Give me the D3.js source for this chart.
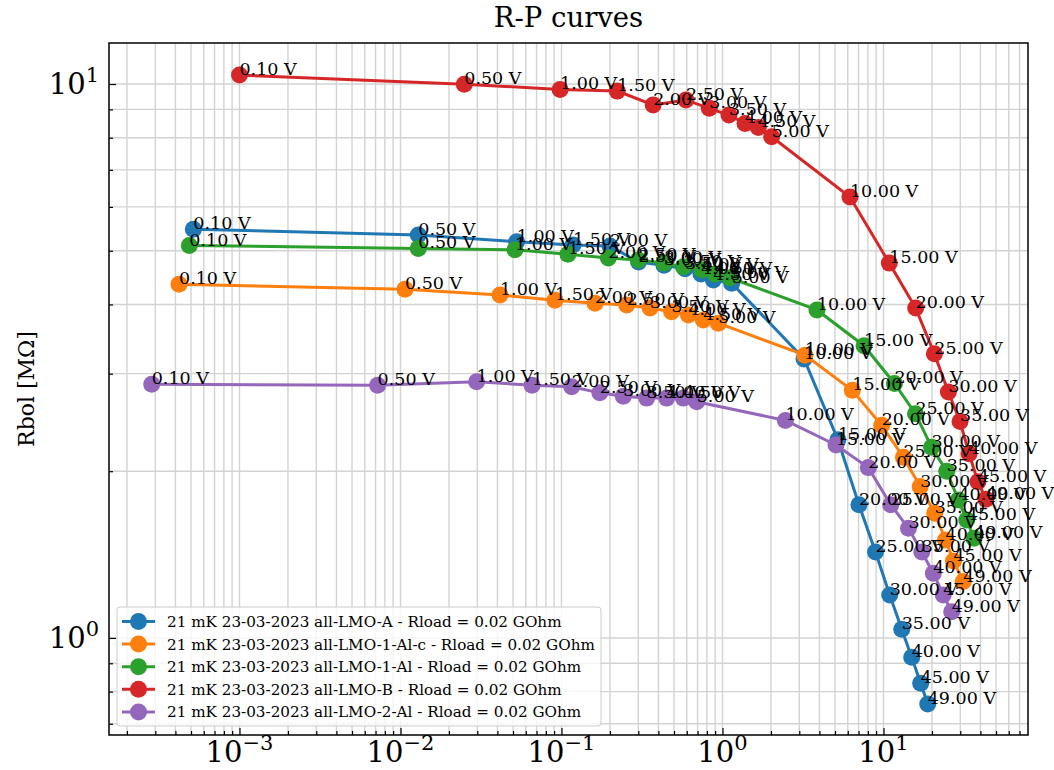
<!DOCTYPE html>
<html>
<meta charset="utf-8">
<style>
body { margin: 0; background: #fff; }
text { font-family: "DejaVu Serif", serif; }
</style>
<script src="https://d3js.org/d3.v7.min.js"></script>
<body>
<div id="chart"></div>
<script>
// data: P (x) and Rbol in MOhm (y), one label per point
var voltages = ["0.10 V","0.50 V","1.00 V","1.50 V","2.00 V","2.50 V","3.00 V","3.50 V","4.00 V","4.50 V","5.00 V",
  "10.00 V","15.00 V","20.00 V","25.00 V","30.00 V","35.00 V","40.00 V","45.00 V","49.00 V"];

var names = [
  "21 mK 23-03-2023 all-LMO-A - Rload = 0.02 GOhm",
  "21 mK 23-03-2023 all-LMO-1-Al-c - Rload = 0.02 GOhm",
  "21 mK 23-03-2023 all-LMO-1-Al - Rload = 0.02 GOhm",
  "21 mK 23-03-2023 all-LMO-B - Rload = 0.02 GOhm",
  "21 mK 23-03-2023 all-LMO-2-Al - Rload = 0.02 GOhm"
];
var colors = ["#1f77b4", "#ff7f0e", "#2ca02c", "#d62728", "#9467bd"];

var pA = [5.17e-4, 0.0129, 0.0527, 0.118, 0.200, 0.301, 0.433, 0.585, 0.735, 0.877, 1.14, 3.21, 5.21, 7.04, 8.92, 10.93, 12.98, 14.97, 17.02, 18.83];
var rA = [5.47, 5.34, 5.19, 5.12, 5.10, 4.77, 4.71, 4.64, 4.54, 4.43, 4.37, 3.19, 2.28, 1.74, 1.43, 1.196, 1.037, 0.923, 0.828, 0.760];

var pAlc = [4.21e-4, 0.01066, 0.0415, 0.0911, 0.1615, 0.254, 0.355, 0.483, 0.614, 0.760, 0.942, 3.25, 6.40, 9.75, 13.3, 16.9, 20.8, 24.3, 27.2, 31.3];
var rAlc = [4.35, 4.26, 4.16, 4.07, 4.02, 3.99, 3.94, 3.88, 3.83, 3.75, 3.70, 3.24, 2.80, 2.42, 2.12, 1.876, 1.679, 1.503, 1.377, 1.264];

var pAl = [4.88e-4, 0.0129, 0.0514, 0.1096, 0.1954, 0.300, 0.433, 0.571, 0.743, 0.898, 1.11, 3.86, 7.57, 11.7, 15.8, 19.9, 24.7, 29.2, 32.9, 36.5];
var rAl = [5.11, 5.05, 5.02, 4.93, 4.85, 4.81, 4.75, 4.68, 4.62, 4.54, 4.47, 3.91, 3.37, 2.88, 2.54, 2.21, 2.00, 1.775, 1.633, 1.513];

var pB = [1.00e-3, 0.0249, 0.098, 0.222, 0.371, 0.593, 0.828, 1.097, 1.38, 1.67, 2.02, 6.19, 10.87, 15.85, 20.7, 25.3, 29.9, 34.0, 38.6, 43.3];
var rB = [10.38, 9.99, 9.78, 9.71, 9.17, 9.36, 9.04, 8.79, 8.49, 8.35, 8.03, 6.25, 4.75, 3.94, 3.26, 2.78, 2.46, 2.15, 1.915, 1.78];

var p2Al = [2.85e-4, 0.00721, 0.0297, 0.0656, 0.1157, 0.173, 0.242, 0.338, 0.450, 0.571, 0.692, 2.46, 5.07, 8.05, 11.09, 14.3, 17.3, 20.4, 23.5, 26.5];
var r2Al = [2.87, 2.86, 2.90, 2.86, 2.84, 2.77, 2.73, 2.71, 2.71, 2.71, 2.67, 2.47, 2.23, 2.03, 1.74, 1.578, 1.43, 1.309, 1.196, 1.115];

var xTicks = [1e-3, 1e-2, 1e-1, 1, 10];
var xTickExp = ["\u22123", "\u22122", "\u22121", "0", "1"];
var yTicks = [1, 10];
var yTickExp = ["0", "1"];

var series = [
  {p: pA, r: rA}, {p: pAlc, r: rAlc}, {p: pAl, r: rAl}, {p: pB, r: rB}, {p: p2Al, r: r2Al}
];

// layout
var W = 1054, H = 770;
var margin = {top: 43, right: 26, bottom: 35, left: 109};
var width = W - margin.left - margin.right,
    height = H - margin.top - margin.bottom;

var svg = d3.select("#chart").append("svg")
    .attr("width", W).attr("height", H);

var g = svg.append("g")
    .attr("transform", "translate(" + margin.left + "," + margin.top + ")");

var x = d3.scaleLog().domain([1.547e-4, 79.0]).range([0, width]);
var y = d3.scaleLog().domain([0.668, 11.86]).range([height, 0]);

// minor tick positions (2..9 per decade)
function minors(dom) {
  var out = [];
  for (var e = Math.floor(Math.log10(dom[0])); e <= Math.ceil(Math.log10(dom[1])); e++) {
    for (var k = 2; k <= 9; k++) {
      var v = k * Math.pow(10, e);
      if (v >= dom[0] && v <= dom[1]) out.push(v);
    }
  }
  return out;
}
var xMinor = minors(x.domain()), yMinor = minors(y.domain());

// grid
var grid = g.append("g").attr("stroke", "#d3d3d3").attr("stroke-width", 1.4);
xTicks.concat(xMinor).forEach(function(v) {
  grid.append("line").attr("x1", x(v)).attr("x2", x(v)).attr("y1", 0).attr("y2", height);
});
yTicks.concat(yMinor).forEach(function(v) {
  grid.append("line").attr("y1", y(v)).attr("y2", y(v)).attr("x1", 0).attr("x2", width);
});

// ticks pointing inward
function styleAxis(sel) {
  sel.select(".domain").remove();
  sel.selectAll("line").attr("stroke", "#000").attr("stroke-width", 1.2);
  sel.selectAll("text").remove();
}
g.append("g").attr("transform", "translate(0," + height + ")")
  .call(d3.axisBottom(x).tickValues(xTicks).tickSize(-7)).call(styleAxis);
g.append("g").attr("transform", "translate(0," + height + ")")
  .call(d3.axisBottom(x).tickValues(xMinor).tickSize(-4)).call(styleAxis);
g.append("g")
  .call(d3.axisLeft(y).tickValues(yTicks).tickSize(-7)).call(styleAxis);
g.append("g")
  .call(d3.axisLeft(y).tickValues(yMinor).tickSize(-4)).call(styleAxis);

// tick labels as 10^n
xTicks.forEach(function(v, i) {
  var t = g.append("text").attr("x", x(v)).attr("y", height + 27)
    .attr("text-anchor", "middle").attr("font-size", 29);
  t.append("tspan").text("10");
  t.append("tspan").attr("font-size", 21).attr("dy", -12).text(xTickExp[i]);
});
yTicks.forEach(function(v, i) {
  var t = g.append("text").attr("x", -10).attr("y", y(v) + 10)
    .attr("text-anchor", "end").attr("font-size", 29);
  t.append("tspan").text("10");
  t.append("tspan").attr("font-size", 21).attr("dy", -12).text(yTickExp[i]);
});

// frame
g.append("rect").attr("width", width).attr("height", height)
  .attr("fill", "none").attr("stroke", "#000").attr("stroke-width", 1.5);

// series
var line = d3.line().x(function(d) { return x(d[0]); }).y(function(d) { return y(d[1]); });
series.forEach(function(s, i) {
  var pts = s.p.map(function(p, j) { return [p, s.r[j]]; });
  g.append("path").datum(pts).attr("d", line)
    .attr("fill", "none").attr("stroke", colors[i]).attr("stroke-width", 3);
  g.selectAll(".m" + i).data(pts).enter().append("circle")
    .attr("cx", function(d) { return x(d[0]); })
    .attr("cy", function(d) { return y(d[1]); })
    .attr("r", 8.5).attr("fill", colors[i]);
});
// voltage annotations on top of all lines
series.forEach(function(s, i) {
  s.p.forEach(function(p, j) {
    g.append("text").attr("x", x(p)).attr("y", y(s.r[j]))
      .attr("font-size", 17.5).attr("fill", "#000").text(voltages[j]);
  });
});

// title and y label
svg.append("text").attr("x", margin.left + width / 2).attr("y", 27)
  .attr("text-anchor", "middle").attr("font-size", 27.5).text("R-P curves");
svg.append("text").attr("transform", "translate(34," + (margin.top + height / 2) + ") rotate(-90)")
  .attr("text-anchor", "middle").attr("font-size", 22).text("Rbol [M\u03a9]");

// legend
var lg = g.append("g").attr("transform", "translate(8," + (height - 128) + ")");
lg.append("rect").attr("width", 484).attr("height", 119).attr("rx", 3)
  .attr("fill", "#fff").attr("fill-opacity", 0.8).attr("stroke", "#ccc");
names.forEach(function(n, i) {
  var ly = 14.5 + i * 22.6;
  lg.append("line").attr("x1", 5).attr("x2", 38).attr("y1", ly).attr("y2", ly)
    .attr("stroke", colors[i]).attr("stroke-width", 3);
  lg.append("circle").attr("cx", 21.5).attr("cy", ly).attr("r", 8.5).attr("fill", colors[i]);
  lg.append("text").attr("x", 50).attr("y", ly + 5.5).attr("font-size", 15.2).text(n);
});
</script>
</body>
</html>
